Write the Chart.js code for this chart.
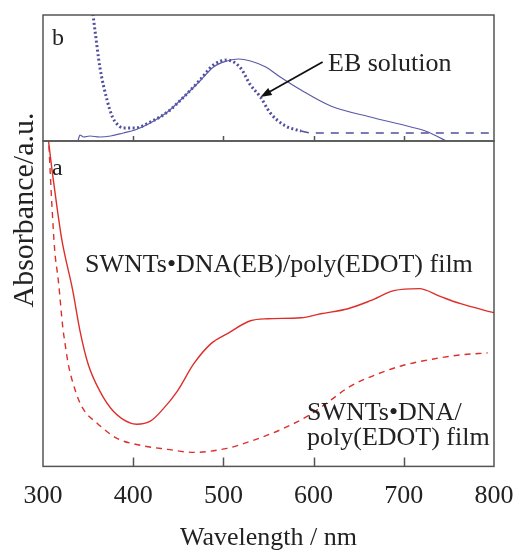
<!DOCTYPE html>
<html>
<head>
<meta charset="utf-8">
<script src="https://cdn.jsdelivr.net/npm/chart.js@4"></script>
<style>
  html, body { margin: 0; padding: 0; background: #fff; }
  #wrap { position: relative; width: 516px; height: 551px; font-family: "Liberation Serif", "Times New Roman", serif; color: #222; }
  canvas { position: absolute; left: 0; top: 0; }
  .lbl { position: absolute; white-space: nowrap; font-size: 26px; line-height: 26px; }
  #ytitle { position: absolute; width: 300px; left: -127px; top: 195px; text-align: center;
            font-size: 30px; line-height: 30px; transform: rotate(-90deg); white-space: nowrap; }
</style>
</head>
<body>
<div id="wrap">
  <canvas id="chartA" width="516" height="551"></canvas>
  <canvas id="chartB" width="516" height="551"></canvas>
  <div id="ytitle">Absorbance/a.u.</div>
  <div class="lbl" style="left:52px; top:25px; font-size:24px; line-height:24px;">b</div>
  <div class="lbl" style="left:52px; top:155px; font-size:24px; line-height:24px;">a</div>
  <div class="lbl" style="left:328px; top:50px;">EB solution</div>
  <div class="lbl" style="left:85px; top:251px;">SWNTs•DNA(EB)/poly(EDOT) film</div>
  <div class="lbl" style="left:307px; top:399px; line-height:25px;">SWNTs•DNA/<br>poly(EDOT) film</div>
</div>
<script>
// panel a: films (absorbance, arbitrary units)
const wavelengthA1 = [304, 310, 316, 321, 333, 341, 350, 363, 378, 397, 404, 419, 433, 449, 467, 486, 504, 530, 549, 586, 608, 638, 663, 689, 717, 741, 763, 800];
const filmEB = [3.40, 2.95, 2.55, 2.25, 1.75, 1.35, 1.02, 0.75, 0.55, 0.43, 0.42, 0.45, 0.57, 0.75, 1.02, 1.22, 1.32, 1.45, 1.47, 1.48, 1.52, 1.57, 1.65, 1.75, 1.77, 1.69, 1.62, 1.53];

const wavelengthA2 = [306, 310, 313, 317, 322, 324, 328, 336, 344, 360, 382, 408, 438, 467, 504, 530, 567, 597, 619, 641, 671, 697, 733, 763, 793];
const filmNoEB = [3.30, 2.58, 2.15, 1.85, 1.38, 1.25, 1.02, 0.75, 0.58, 0.43, 0.28, 0.21, 0.17, 0.14, 0.18, 0.25, 0.38, 0.52, 0.66, 0.80, 0.92, 1.00, 1.07, 1.11, 1.13];

// panel b: EB solution (dotted, dashed tail) and EB film
const wavelengthB1 = [354, 358, 363, 371, 377, 382, 389, 402, 419, 438, 456, 474, 489, 504, 519, 530, 541, 552, 567, 586, 600, 650, 700, 750, 800];
const ebSolution = [1.36, 1.08, 0.74, 0.41, 0.24, 0.17, 0.13, 0.13, 0.19, 0.29, 0.44, 0.61, 0.76, 0.81, 0.73, 0.56, 0.44, 0.28, 0.16, 0.10, 0.08, 0.08, 0.08, 0.08, 0.08];

const wavelengthB2 = [339, 341, 345, 352, 363, 375, 389, 402, 419, 438, 456, 474, 489, 504, 517, 530, 547, 563, 586, 619, 663, 708, 724, 747, 755];
const ebFilm = [0.01, 0.06, 0.04, 0.05, 0.04, 0.05, 0.08, 0.11, 0.18, 0.29, 0.44, 0.60, 0.74, 0.80, 0.82, 0.80, 0.74, 0.64, 0.51, 0.35, 0.24, 0.14, 0.10, 0.00, -0.04];

const xTickStep = 100;
const innerTicks = [400, 500, 600, 700];
const dashFrom = 586;
const arrowTail = [610, 0.79];
const arrowTip = [541, 0.44];

const RED = "#dd2f2a";
const BLUE = "#5a5aa8";
const FONT = "Liberation Serif";

function pts(xs, ys) { return xs.map((x, i) => ({x: x, y: ys[i]})); }

// box around plot area + short ticks pointing up from the bottom
const framePlugin = {
  id: "frame",
  afterDatasetsDraw(chart, args, opts) {
    const {ctx, chartArea: a} = chart;
    const x = chart.scales.x;
    ctx.save();
    ctx.strokeStyle = "#555";
    ctx.lineWidth = 1.5;
    ctx.strokeRect(a.left, a.top, a.right - a.left, a.bottom - a.top);
    ctx.beginPath();
    innerTicks.forEach(v => {
      const px = Math.round(x.getPixelForValue(v)) + 0.5;
      ctx.moveTo(px, a.bottom);
      ctx.lineTo(px, a.bottom - opts.len);
    });
    ctx.stroke();
    ctx.restore();
  }
};

const arrowPlugin = {
  id: "arrow",
  afterDatasetsDraw(chart) {
    const {ctx, scales: {x, y}} = chart;
    const x0 = x.getPixelForValue(arrowTail[0]), y0 = y.getPixelForValue(arrowTail[1]);
    const x1 = x.getPixelForValue(arrowTip[0]), y1 = y.getPixelForValue(arrowTip[1]);
    const ang = Math.atan2(y1 - y0, x1 - x0);
    const len = 12, half = 0.35;
    ctx.save();
    ctx.strokeStyle = "#111";
    ctx.fillStyle = "#111";
    ctx.lineWidth = 1.8;
    ctx.beginPath();
    ctx.moveTo(x0, y0);
    ctx.lineTo(x1 - Math.cos(ang) * len * 0.8, y1 - Math.sin(ang) * len * 0.8);
    ctx.stroke();
    ctx.beginPath();
    ctx.moveTo(x1, y1);
    ctx.lineTo(x1 - len * Math.cos(ang - half), y1 - len * Math.sin(ang - half));
    ctx.lineTo(x1 - len * Math.cos(ang + half), y1 - len * Math.sin(ang + half));
    ctx.closePath();
    ctx.fill();
    ctx.restore();
  }
};

const baseOpts = {
  responsive: false,
  animation: false,
  devicePixelRatio: 1,
  plugins: { legend: { display: false }, tooltip: { enabled: false } },
  elements: { point: { radius: 0 }, line: { cubicInterpolationMode: "monotone" } }
};

// panel a (bottom), owns the x axis labels
new Chart(document.getElementById("chartA"), {
  type: "line",
  data: {
    datasets: [
      { data: pts(wavelengthA1, filmEB), borderColor: RED, borderWidth: 1.4 },
      { data: pts(wavelengthA2, filmNoEB), borderColor: RED, borderWidth: 1.4, borderDash: [6, 5] }
    ]
  },
  options: {
    ...baseOpts,
    layout: { padding: { left: 43, right: 22, top: 141, bottom: 0 } },
    scales: {
      x: {
        type: "linear", min: 300, max: 800,
        grid: { display: false, drawTicks: false },
        border: { display: false },
        afterFit: s => { s.paddingLeft = 0; s.paddingRight = 0; },
        ticks: { stepSize: xTickStep, padding: 15, maxRotation: 0, autoSkip: false, color: "#222",
                 font: { family: FONT, size: 26, lineHeight: 1.1 } },
        title: { display: true, text: "Wavelength / nm", color: "#222",
                 font: { family: FONT, size: 26, lineHeight: 1.0 }, padding: { top: 0, bottom: 0 } }
      },
      y: { display: false, min: 0, max: 3.24 }
    },
    plugins: { ...baseOpts.plugins, frame: { len: 9 } }
  },
  plugins: [framePlugin]
});

// panel b (top)
new Chart(document.getElementById("chartB"), {
  type: "line",
  data: {
    datasets: [
      { data: pts(wavelengthB2, ebFilm), borderColor: BLUE, borderWidth: 1.2 },
      {
        data: pts(wavelengthB1, ebSolution), borderColor: "#4f4f9e", borderWidth: 3, borderDash: [2, 2.5],
        segment: {
          borderDash: ctx => ctx.p0.parsed.x >= dashFrom ? [8, 7] : undefined,
          borderWidth: ctx => ctx.p0.parsed.x >= dashFrom ? 1.5 : undefined
        }
      }
    ]
  },
  options: {
    ...baseOpts,
    layout: { padding: { left: 43, right: 22, top: 15, bottom: 410 } },
    scales: {
      x: { display: false, type: "linear", min: 300, max: 800 },
      y: { display: false, min: 0, max: 1.26 }
    },
    plugins: { ...baseOpts.plugins, frame: { len: 5 } }
  },
  plugins: [framePlugin, arrowPlugin]
});
</script>
</body>
</html>
